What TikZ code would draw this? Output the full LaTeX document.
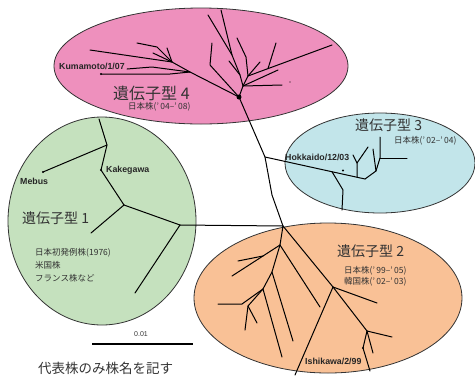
\documentclass[tikz,border=0pt]{standalone}
\usepackage{fontspec}
\setmainfont{Liberation Sans}
\newfontfamily\jp{Noto Sans CJK JP}
\definecolor{pinkF}{HTML}{EE90BD}
\definecolor{blueF}{HTML}{C2E5EA}
\definecolor{greenF}{HTML}{C5E1BE}
\definecolor{orangeF}{HTML}{F9C196}
\definecolor{edgeC}{HTML}{333333}
\definecolor{txtC}{HTML}{333333}
\begin{document}
\begin{tikzpicture}[x=1pt,y=-1pt,
  tree/.style={line width=1pt, black, line cap=round, line join=round},
  blob/.style={draw=edgeC, line width=0.8pt},
  bigjp/.style={font=\jp\fontsize{14}{14}\selectfont, text=txtC, inner sep=0pt, anchor=west},
  hugejp/.style={font=\jp\fontsize{16}{16}\selectfont, text=txtC, inner sep=0pt, anchor=west},
  smalljp/.style={font=\jp\fontsize{8.5}{9}\selectfont, text=txtC, inner sep=0pt, anchor=west},
  strain/.style={font=\bfseries\fontsize{8.8}{9}\selectfont, text=black!85, inner sep=0pt, anchor=west},
  leafdot/.style={fill=black, circle, inner sep=0pt, minimum size=2.4pt}]
\useasboundingbox (0,0) rectangle (475,376);

% clusters
\path[blob, fill=pinkF] (201,66) ellipse [x radius=147pt, y radius=58pt];
\path[blob, fill=blueF] (380,163) ellipse [x radius=95pt, y radius=50pt];
\path[blob, fill=greenF] (102,221) ellipse [x radius=94pt, y radius=104pt];
\path[blob, fill=orangeF] (328,298) ellipse [x radius=134pt, y radius=75pt];

% ---------- genotype 4 ----------
\coordinate (H4) at (239,97);
\coordinate (a1) at (90,50);
\coordinate (P) at (172,62);
\coordinate (Q) at (190,72);
\coordinate (b1) at (137,43);
\coordinate (b2) at (157,47);
\coordinate (b3) at (153,53);
\coordinate (b4) at (167,48);
\coordinate (k1) at (127,69);
\coordinate (k2) at (152,67);
\coordinate (kd) at (101,74);
\coordinate (d2) at (170,74);
\draw[tree] (a1) -- (P) -- (Q) -- (H4);
\draw[tree] (b1) -- (b2) -- (P);
\draw[tree] (b3) -- (P);
\draw[tree] (b4) -- (P);
\draw[tree] (k1) -- (k2) -- (Q);
\draw[tree] (kd) -- (d2) -- (Q);
\node[leafdot] (kumdot) at (kd) {};

\coordinate (S1) at (243,86);
\coordinate (U) at (240,75);
\coordinate (W) at (232,55);
\coordinate (t1) at (208,15);
\coordinate (t2) at (221,10);
\coordinate (t3) at (229,61);
\coordinate (S2) at (248,76);
\coordinate (m1) at (246,57);
\coordinate (m2) at (237,38);
\coordinate (t4) at (260,62);
\coordinate (S3) at (268,68.6);
\coordinate (t5) at (332,45);
\coordinate (t6) at (276,43);
\coordinate (t7) at (278,70);
\coordinate (t8) at (282,85);
\coordinate (c1) at (210,65);
\coordinate (c2) at (212,43);
\draw[tree] (H4) -- (S1) -- (U) -- (W) -- (t1);
\draw[tree] (W) -- (t2);
\draw[tree] (U) -- (t3);
\draw[tree] (S1) -- (S2) -- (m1) -- (m2);
\draw[tree] (S2) -- (t4);
\draw[tree] (S2) -- (S3) -- (t5);
\draw[tree] (S3) -- (t6);
\draw[tree] (S1) -- (t7);
\draw[tree] (S1) -- (t8);
\draw[tree] (H4) -- (c1) -- (c2);
\foreach \p [count=\i] in {(217,92),(216,97),(218,102),(222,110),(224,116),(233,119),(240,120),(245,117),(252,114),(265,112),(278,110),(288,113),(266,92),(262,88),(214,94),(215,100),(220,106),(228,116),(236,121),(249,119),(258,116),(271,111),(283,107)}{
  \coordinate (r\i) at \p;
  \draw[tree] (H4) -- (r\i);
}
\node[fill=black, circle, inner sep=0pt, minimum size=5pt] (hub4) at (H4) {};
\node[fill=black, circle, inner sep=0pt, minimum size=1.2pt] (speck) at (290,82) {};

% ---------- backbone ----------
\coordinate (N1) at (265,157);
\coordinate (N2) at (272,195);
\coordinate (J) at (283,226);
\coordinate (G1) at (180,225);
\draw[tree] (H4) -- (N1) -- (N2) -- (J);
\draw[tree] (G1) -- (J);

% ---------- genotype 3 ----------
\coordinate (H3) at (365,179);
\coordinate (h1) at (332,171.7);
\coordinate (h2) at (343,190);
\coordinate (h3) at (342,210);
\coordinate (y0) at (357,177.2);
\coordinate (y1) at (357,163);
\coordinate (y2) at (353,155);
\coordinate (y3) at (368,147);
\coordinate (N3) at (376,171);
\coordinate (N4) at (380,158);
\draw[tree] (N1) -- (H3);
\draw[tree] (h1) -- (h2) -- (h3);
\draw[tree] (y0) -- (y1) -- (y2);
\draw[tree] (y1) -- (y3);
\foreach \p [count=\i] in {(393,181),(389,171),(388,165)}{
  \coordinate (q\i) at \p;
  \draw[tree] (H3) -- (q\i);
}
\coordinate (n3a) at (373,149);
\coordinate (n4a) at (380,137);
\coordinate (n4b) at (407,158);
\draw[tree] (H3) -- (N3) -- (n3a);
\draw[tree] (N3) -- (N4) -- (n4a);
\draw[tree] (N4) -- (n4b);
\node[fill=black, circle, inner sep=0pt, minimum size=2.2pt] (hokdot) at (343,170.5) {};

% ---------- genotype 1 ----------
\coordinate (K) at (124,205);
\coordinate (kak) at (101,170);
\coordinate (M) at (107,145);
\coordinate (meb) at (43,172);
\coordinate (g1t) at (99,119);
\coordinate (g1a) at (91,233);
\coordinate (g1b) at (135,293);
\draw[tree] (G1) -- (K) -- (kak) -- (M) -- (meb);
\draw[tree] (M) -- (g1t);
\draw[tree] (K) -- (g1a);
\draw[tree] (G1) -- (g1b);
\node[leafdot] (kakdot) at (kak) {};
\node[leafdot] (mebdot) at (meb) {};

% ---------- genotype 2 ----------
\coordinate (C) at (280,245);
\coordinate (C2) at (232,276);
\coordinate (cc) at (263,256);
\coordinate (cc2) at (238,261);
\coordinate (D) at (272,272);
\coordinate (D2) at (293,341);
\coordinate (C3) at (320,307);
\coordinate (E) at (263,289);
\coordinate (E1) at (242,304);
\coordinate (E2) at (218,304);
\coordinate (E3) at (282,357);
\coordinate (F2) at (248,306);
\coordinate (F2a) at (245,330);
\coordinate (F2b) at (257,323);
\coordinate (B) at (333,287);
\coordinate (B1) at (377,303);
\coordinate (B2) at (295,375);
\coordinate (F) at (367,331);
\coordinate (F1) at (392,337);
\coordinate (F3) at (373,353);
\coordinate (ish) at (363,348);
\coordinate (F4) at (370,371);
\draw[tree] (J) -- (C) -- (cc) -- (C2);
\draw[tree] (cc) -- (cc2);
\draw[tree] (C) -- (D) -- (E) -- (E1) -- (E2);
\draw[tree] (D) -- (D2);
\draw[tree] (C) -- (C3);
\draw[tree] (E) -- (E3);
\draw[tree] (E) -- (F2) -- (F2a);
\draw[tree] (F2) -- (F2b);
\draw[tree] (J) -- (B) -- (B1);
\draw[tree] (B) -- (B2);
\draw[tree] (B) -- (F) -- (F1);
\draw[tree] (F) -- (F3);
\draw[tree] (F) -- (ish) -- (F4);
\node[leafdot] (ishdot) at (ish) {};

% ---------- labels ----------
\node[hugejp] (L4) at (113,93) {遺伝子型 4};
\node[smalljp] (L4s) at (128,107) {日本株(’\,04–’\,08)};
\node[strain] (kum) at (59,66) {Kumamoto/1/07};

\node[bigjp] (L3) at (355,125) {遺伝子型 3};
\node[smalljp] (L3s) at (394,141) {日本株(’\,02–’\,04)};
\node[strain] (hok) at (285,157.5) {Hokkaido/12/03};

\node[bigjp] (L1) at (22,218) {遺伝子型 1};
\node[smalljp] (L1a) at (35,253) {日本初発例株(1976)};
\node[smalljp] (L1b) at (35,265.5) {米国株};
\node[smalljp] (L1c) at (35,278) {フランス株など};
\node[strain] (mebl) at (20,181.5) {Mebus};
\node[strain] (kakl) at (106,170) {Kakegawa};

\node[bigjp] (L2) at (337,251) {遺伝子型 2};
\node[smalljp] (L2a) at (344,271) {日本株(’\,99–’\,05)};
\node[smalljp] (L2b) at (344,282) {韓国株(’\,02–’\,03)};
\node[strain] (ishl) at (305,361) {Ishikawa/2/99};

% scale bar
\coordinate (sb1) at (92,344);
\coordinate (sb2) at (193,344);
\draw[line width=1.1pt] (sb1) -- (sb2);
\node[font=\fontsize{7}{8}\selectfont, text=txtC, inner sep=0pt] (sbl) at (141,334) {0.01};

\node[font=\jp\fontsize{13.5}{14}\selectfont, text=txtC, inner sep=0pt, anchor=west] (note) at (38,368) {代表株のみ株名を記す};
\end{tikzpicture}
\end{document}
